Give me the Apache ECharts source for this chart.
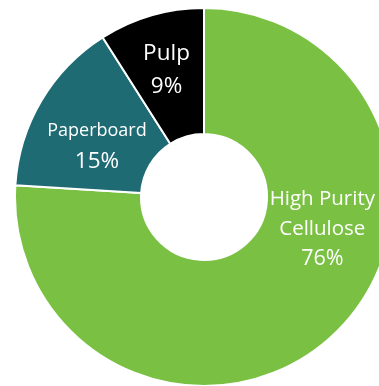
<!DOCTYPE html>
<html>
<head>
<meta charset="utf-8">
<script src="https://cdn.jsdelivr.net/npm/echarts@6/dist/echarts.min.js"></script>
<style>html,body{margin:0;padding:0;background:#fff;}#c{width:379px;height:386px;}</style>
</head>
<body>
<div id="c"></div>
<script>
var categories = ['High Purity Cellulose', 'Paperboard', 'Pulp'];
var shares = [76, 15, 9];
var colors = ['#7ac143', '#1f6b74', '#000000'];

var chart = echarts.init(document.getElementById('c'), null, {renderer: 'canvas'});
var labelTweaks = [
  {offset: [30, -62], nameSize: 20.5, pctSize: 21.5, lh: 30},
  {offset: [4, 15], nameSize: 18, pctSize: 22.5, lh: 30},
  {offset: [-1.5, -3], nameSize: 22.5, pctSize: 22.5, lh: 33}
];
var data = categories.map(function (name, i) {
  var t = labelTweaks[i];
  return {
    name: name,
    value: shares[i],
    itemStyle: {color: colors[i]},
    label: {
      offset: t.offset,
      rich: {
        n: {fontSize: t.nameSize, lineHeight: t.lh, color: '#fff', fontFamily: 'Open Sans', align: 'center'},
        p: {fontSize: t.pctSize, lineHeight: t.lh, color: '#fff', fontFamily: 'Open Sans', align: 'center'}
      }
    }
  };
});
chart.setOption({
  animation: false,
  series: [{
    type: 'pie',
    center: [204, 197],
    radius: [63, 189],
    startAngle: 90,
    clockwise: true,
    avoidLabelOverlap: false,
    itemStyle: {borderColor: '#ffffff', borderWidth: 2},
    label: {
      show: true,
      position: 'inside',
      color: '#ffffff',
      fontFamily: 'Open Sans',
      align: 'center',
      formatter: function (p) {
        var lines = p.name.replace('High Purity ', 'High Purity\n').split('\n');
        return lines.map(function (l) { return '{n|' + l + '}'; }).join('\n') + '\n{p|' + p.value + '%}';
      }
    },
    labelLine: {show: false},
    emphasis: {disabled: true},
    data: data
  }]
});
</script>
</body>
</html>
